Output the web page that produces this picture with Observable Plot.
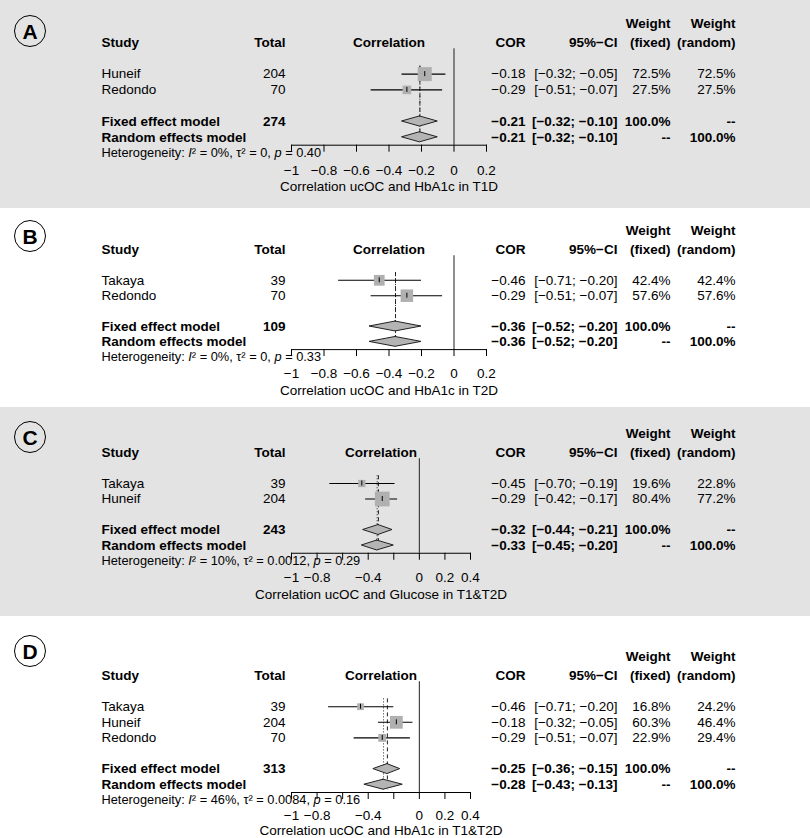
<!DOCTYPE html>
<html><head><meta charset="utf-8">
<script src="https://cdn.jsdelivr.net/npm/d3@7"></script>
<script src="https://cdn.jsdelivr.net/npm/@observablehq/plot@0.6"></script>
<style>
body{margin:0;background:#fff;font-family:"Liberation Sans",Arial,sans-serif;}
.panel{position:relative;width:810px;overflow:hidden}
.panel svg{display:block}
.badge{position:absolute;left:14px;width:30px;height:30px;border:1.6px solid #000;border-radius:50%;
 font:bold 21px "Liberation Sans",Arial,sans-serif;text-align:center;line-height:31px;color:#000}
</style></head><body><div id="root"></div>
<script>
// ---------------- data ----------------
const panelLabels = ["A", "B", "C", "D"];
const studyNames = [["Huneif", "Redondo"], ["Takaya", "Redondo"], ["Takaya", "Huneif"], ["Takaya", "Huneif", "Redondo"]];
const studyTotals = [[204, 70], [39, 70], [39, 204], [39, 204, 70]];
const studyCor = [[-0.18, -0.29], [-0.46, -0.29], [-0.45, -0.29], [-0.46, -0.18, -0.29]];
const studyLower = [[-0.32, -0.51], [-0.71, -0.51], [-0.70, -0.42], [-0.71, -0.32, -0.51]];
const studyUpper = [[-0.05, -0.07], [-0.20, -0.07], [-0.19, -0.17], [-0.20, -0.05, -0.07]];
const weightFixed = [[72.5, 27.5], [42.4, 57.6], [19.6, 80.4], [16.8, 60.3, 22.9]];
const weightRandom = [[72.5, 27.5], [42.4, 57.6], [22.8, 77.2], [24.2, 46.4, 29.4]];
const fixedTotal = [274, 109, 243, 313];
const fixedCor = [-0.21, -0.36, -0.32, -0.25];
const fixedLower = [-0.32, -0.52, -0.44, -0.36];
const fixedUpper = [-0.10, -0.20, -0.21, -0.15];
const randomCor = [-0.21, -0.36, -0.33, -0.28];
const randomLower = [-0.32, -0.52, -0.45, -0.43];
const randomUpper = [-0.10, -0.20, -0.20, -0.13];
const hetI2 = ["0%", "0%", "10%", "46%"];
const hetTau2 = ["0", "0", "0.0012", "0.0084"];
const hetP = ["0.40", "0.33", "0.29", "0.16"];
const axisTitles = ["Correlation ucOC and HbA1c in T1D", "Correlation ucOC and HbA1c in T2D",
  "Correlation ucOC and Glucose in T1&T2D", "Correlation ucOC and HbA1c in T1&T2D"];
const axisTicks = [[-1, -0.8, -0.6, -0.4, -0.2, 0, 0.2], [-1, -0.8, -0.6, -0.4, -0.2, 0, 0.2],
  [-1, -0.8, -0.6, -0.4, -0.2, 0, 0.2, 0.4], [-1, -0.8, -0.6, -0.4, -0.2, 0, 0.2, 0.4]];
const axisTickLabels = [["−1", "−0.8", "−0.6", "−0.4", "−0.2", "0", "0.2"], ["−1", "−0.8", "−0.6", "−0.4", "−0.2", "0", "0.2"],
  ["−1", "−0.8", "", "−0.4", "", "0", "0.2", "0.4"], ["−1", "−0.8", "", "−0.4", "", "0", "0.2", "0.4"]];
const headerCols = ["Study", "Total", "Correlation", "COR", "95%−CI", "(fixed)", "(random)"];
const headerWeight = "Weight";

// ---------------- layout ----------------
const panelHeight = [208, 199, 209, 222];
const panelBg = ["#e3e3e3", "#ffffff", "#e3e3e3", "#ffffff"];
const studyRowY = [42, 41, 45, 59];
const rowPxP = [15.8, 15.4, 15.5, 15.6];
const badgeY = [31, 28, 30, 35];
const labelOffsetP = [46, 45, 46, 42];
const tickPadP = [13, 12, 12, 11];
const plotLeft = 291;
const plotRightPx = [486, 486, 470, 470];
const colX = {study: 101, total: 285, cor: 525, ci: 617, wf: 670, wr: 735};
const FONT = "'Liberation Sans', Arial, Helvetica, sans-serif";
const FS = 13.5;

const fmt2 = v => (v < 0 ? "−" : "") + Math.abs(v).toFixed(2);
const ciTxt = (l, u) => `[${fmt2(l)}; ${fmt2(u)}]`;
const pct = v => v.toFixed(1) + "%";

const root = document.getElementById("root");

panelLabels.forEach((lab, p) => {
  const n = studyNames[p].length;
  const xMax = axisTicks[p][axisTicks[p].length - 1];
  const rAxis = n + 4.5;
  const H = panelHeight[p];
  const top = studyRowY[p];
  const frameH = rAxis * rowPxP[p];
  const studies = studyNames[p].map((name, i) => ({
    name, total: studyTotals[p][i], cor: studyCor[p][i], lo: studyLower[p][i], hi: studyUpper[p][i],
    wf: weightFixed[p][i], wr: weightRandom[p][i], r: 2 + i
  }));
  const models = [
    {name: "Fixed effect model", total: String(fixedTotal[p]), cor: fixedCor[p], lo: fixedLower[p], hi: fixedUpper[p], wf: "100.0%", wr: "--", r: n + 3},
    {name: "Random effects model", total: "", cor: randomCor[p], lo: randomLower[p], hi: randomUpper[p], wf: "--", wr: "100.0%", r: n + 4}
  ];
  const diamond = models.flatMap(m => [
    {m: m.name, y: m.r - 0.32, x1: m.cor, x2: m.cor},
    {m: m.name, y: m.r, x1: m.lo, x2: m.hi},
    {m: m.name, y: m.r + 0.32, x1: m.cor, x2: m.cor}
  ]);
  const dx = c => colX[c] - plotLeft;
  const T = {frameAnchor: "left", fontSize: FS, fill: "#000"};
  const tickLab = new Map(axisTicks[p].map((t, i) => [t, axisTickLabels[p][i]]));
  const centerDx = (plotRightPx[p] - plotLeft) / 2;
  const headerAnchors = ["start", "end", "middle", "end", "end", "end", "end"];
  const headerDx = [dx("study"), dx("total"), centerDx, dx("cor"), dx("ci"), dx("wf"), dx("wr")];

  const chart = Plot.plot({
    width: 810, height: H,
    marginLeft: plotLeft, marginRight: 810 - plotRightPx[p],
    marginTop: top, marginBottom: H - top - frameH,
    x: {domain: [-1, xMax]},
    y: {domain: [0, rAxis], reverse: true, axis: null},
    r: {type: "sqrt", domain: [0, 100], range: [0, 9.3]},
    style: {background: "transparent", fontFamily: FONT, fontSize: FS + "px", color: "#000", overflow: "visible"},
    marks: [
      Plot.frame({anchor: "bottom", stroke: "#000"}),
      Plot.axisX({ticks: axisTicks[p], tickFormat: d => tickLab.get(d) ?? "", tickSize: 7, tickPadding: tickPadP[p],
        fontSize: FS, label: axisTitles[p], labelAnchor: "center", labelOffset: labelOffsetP[p], labelArrow: "none"}),
      // zero line
      Plot.ruleX([0], {y1: 0.4, y2: rAxis, stroke: "#333", strokeWidth: 1.1}),
      // pooled estimate lines (fixed: dashed, random: dotted)
      Plot.ruleX([fixedCor[p]], {y1: 1.5, y2: n + 4.35, stroke: "#222", strokeDasharray: "4,3"}),
      Plot.ruleX([randomCor[p]], {y1: 1.5, y2: n + 4.35, stroke: "#222", strokeDasharray: "1,2"}),
      // study CIs, squares, estimate ticks
      Plot.ruleY(studies, {x1: "lo", x2: "hi", y: "r", stroke: "#000", strokeWidth: 1.1}),
      Plot.dot(studies, {x: "cor", y: "r", r: "wf", symbol: "square", fill: "#b0b0b0", stroke: null}),
      Plot.ruleX(studies, {x: "cor", y1: d => d.r - 0.16, y2: d => d.r + 0.16, stroke: "#000"}),
      // diamonds
      Plot.areaX(diamond, {y: "y", x1: "x1", x2: "x2", z: "m", fill: "#b4b4b4", stroke: "#222", strokeWidth: 1, curve: "linear"}),
      // header rows
      ...headerCols.map((h, i) => Plot.text([h], {...T, y: () => 0, text: d => d, dx: headerDx[i], textAnchor: headerAnchors[i], fontWeight: "bold"})),
      Plot.text([headerWeight], {...T, y: () => -1.2, text: d => d, dx: dx("wf"), textAnchor: "end", fontWeight: "bold"}),
      Plot.text([headerWeight], {...T, y: () => -1.2, text: d => d, dx: dx("wr"), textAnchor: "end", fontWeight: "bold"}),
      // study rows
      Plot.text(studies, {...T, y: "r", text: "name", dx: dx("study"), textAnchor: "start"}),
      Plot.text(studies, {...T, y: "r", text: d => String(d.total), dx: dx("total"), textAnchor: "end"}),
      Plot.text(studies, {...T, y: "r", text: d => fmt2(d.cor), dx: dx("cor"), textAnchor: "end"}),
      Plot.text(studies, {...T, y: "r", text: d => ciTxt(d.lo, d.hi), dx: dx("ci"), textAnchor: "end"}),
      Plot.text(studies, {...T, y: "r", text: d => pct(d.wf), dx: dx("wf"), textAnchor: "end"}),
      Plot.text(studies, {...T, y: "r", text: d => pct(d.wr), dx: dx("wr"), textAnchor: "end"}),
      // model rows
      Plot.text(models, {...T, y: "r", text: "name", dx: dx("study"), textAnchor: "start", fontWeight: "bold"}),
      Plot.text(models, {...T, y: "r", text: "total", dx: dx("total"), textAnchor: "end", fontWeight: "bold"}),
      Plot.text(models, {...T, y: "r", text: d => fmt2(d.cor), dx: dx("cor"), textAnchor: "end", fontWeight: "bold"}),
      Plot.text(models, {...T, y: "r", text: d => ciTxt(d.lo, d.hi), dx: dx("ci"), textAnchor: "end", fontWeight: "bold"}),
      Plot.text(models, {...T, y: "r", text: "wf", dx: dx("wf"), textAnchor: "end", fontWeight: "bold"}),
      Plot.text(models, {...T, y: "r", text: "wr", dx: dx("wr"), textAnchor: "end", fontWeight: "bold"}),
      // heterogeneity
      Plot.text([`Heterogeneity: I² = ${hetI2[p]}, τ² = ${hetTau2[p]}, p = ${hetP[p]}`],
        {...T, y: () => n + 5, text: d => d, dx: dx("study"), textAnchor: "start", fontSize: 12.8})
    ]
  });

  // italicise I and p in heterogeneity text
  d3.select(chart).selectAll("text").each(function () {
    const t = this.textContent;
    if (t.startsWith("Heterogeneity:")) {
      const sel = d3.select(this);
      sel.text("");
      sel.append("tspan").text("Heterogeneity: ");
      sel.append("tspan").attr("font-style", "italic").text("I");
      sel.append("tspan").text(`² = ${hetI2[p]}, τ² = ${hetTau2[p]}, `);
      sel.append("tspan").attr("font-style", "italic").text("p");
      sel.append("tspan").text(` = ${hetP[p]}`);
    }
  });

  const div = document.createElement("div");
  div.className = "panel";
  div.style.height = H + "px";
  div.style.background = panelBg[p];
  div.appendChild(chart);
  const b = document.createElement("div");
  b.className = "badge";
  b.textContent = lab;
  b.style.top = (badgeY[p] - 16) + "px";
  div.appendChild(b);
  root.appendChild(div);
});
</script></body></html>
